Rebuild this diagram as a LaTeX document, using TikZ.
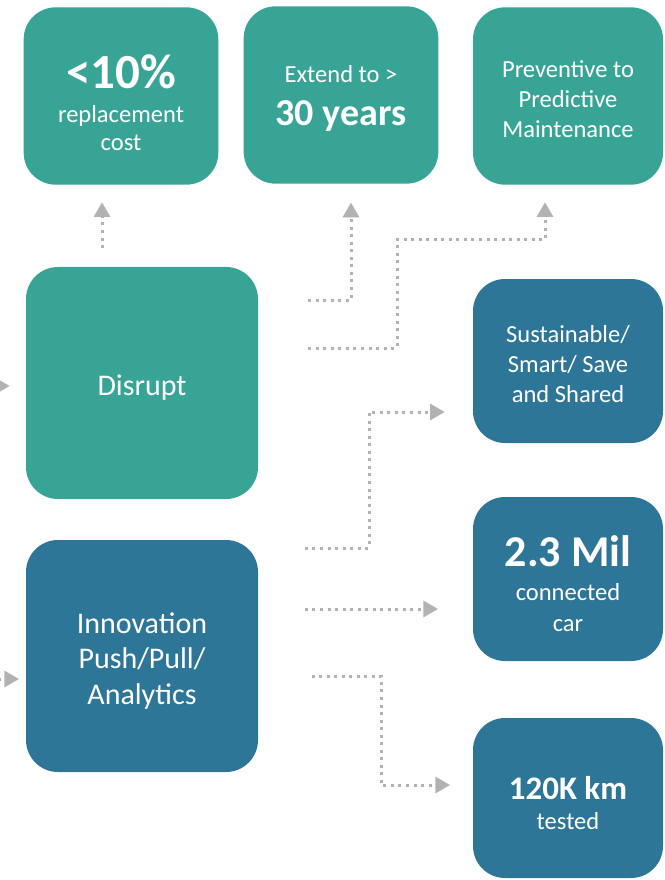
\documentclass[tikz,border=0pt]{standalone}
\usepackage{fontspec}
\setmainfont{Carlito}
\usetikzlibrary{arrows.meta,positioning}
\definecolor{tealbox}{RGB}{56,164,150}
\definecolor{bluebox}{RGB}{46,118,152}
\definecolor{linkgray}{RGB}{178,178,178}
\newcommand{\padtop}[2]{\raisebox{0pt}[\dimexpr\height+#1\relax]{#2}}
\newcommand{\sinkby}[2]{\raisebox{0pt}[\height][\dimexpr\depth-#1\relax]{#2}}

\begin{document}
\begin{tikzpicture}
[x=0.75pt, y=-0.75pt,
block0/.style={rectangle, rounded corners=24pt, fill=tealbox, text=white, align=center, inner sep=0pt, font=\fontsize{18.4}{22.5}\selectfont},
block1/.style={rectangle, rounded corners=24pt, fill=bluebox, text=white, align=center, inner sep=0pt, font=\fontsize{18.4}{22.5}\selectfont},
topbox/.style={minimum width=146pt, minimum height=133pt},
hubbox/.style={minimum width=174pt, minimum height=174pt, font=\fontsize{22.5}{26.6}\selectfont},
sidebox/.style={minimum width=142.5pt, minimum height=123pt},
link/.style={draw=linkgray, line width=2.25pt, dash pattern=on 2.25pt off 3.4pt, -{Triangle[length=11pt,width=12pt]}}]

\useasboundingbox (0,0) rectangle (664,880);

\node[block0,topbox] (ten) at (121,96) {\padtop{10.5pt}{\fontsize{36.8}{40}\selectfont\bfseries <10\%}\\[3pt]replacement\\[-1.5pt]cost};
\node[block0,topbox] (years) at (341,95) {Extend to >\\[9.75pt]\sinkby{5pt}{\fontsize{28.5}{32}\selectfont\bfseries 30 years}};
\node[block0,topbox,minimum width=142.5pt] (predict) at (568,96) {\padtop{4.5pt}{Preventive to}\\Predictive\\Maintenance};

\node[block0,hubbox] (disrupt) at (142,383) {\padtop{7.5pt}{Disrupt}};
\node[block1,hubbox] (innov) at (142,656) {\padtop{7.5pt}{Innovation}\\Push/Pull/\\Analytics};

\node[block1,sidebox] (smart) at (568,361) {\padtop{4.5pt}{Sustainable/}\\Smart/ Save\\and Shared};
\node[block1,sidebox] (mil) at (568,579) {\padtop{7.5pt}{\fontsize{33}{36}\selectfont\bfseries 2.3 Mil}\\[3pt]connected\\[0.75pt]car};
\node[block1,sidebox,minimum height=120pt] (km) at (568,798) {\padtop{8pt}{\fontsize{24.7}{28}\selectfont\bfseries 120K km}\\tested};

\coordinate (inA) at (-40,386);
\coordinate (inB) at (-40,679);

\draw[link, shorten >=12pt] (inA) -- (disrupt.west |- inA);
\draw[link, shorten >=5pt] (inB) -- (innov.west |- inB);

\draw[link, shorten <=14pt, shorten >=13pt] (disrupt.north -| 102,0) -- (ten.south -| 102,0);
\draw[link, shorten <=37.5pt, shorten >=14pt] (disrupt.east |- 0,300) -| (years.south -| 351,0);
\draw[link, shorten <=37.5pt, shorten >=13pt] (disrupt.east |- 0,348) -| (397,240) -| (predict.south -| 545,0);

\draw[link, shorten <=35pt, shorten >=21pt] (innov.east |- 0,548) -| (369,412) -- (smart.west |- 0,412);
\draw[link, shorten <=35pt, shorten >=26pt] (innov.east |- 0,609) -- (mil.west |- 0,609);
\draw[link, shorten <=40pt, shorten >=17pt] (innov.east |- 0,676) -| (381,785) -- (km.west |- 0,785);
\end{tikzpicture}
\end{document}
